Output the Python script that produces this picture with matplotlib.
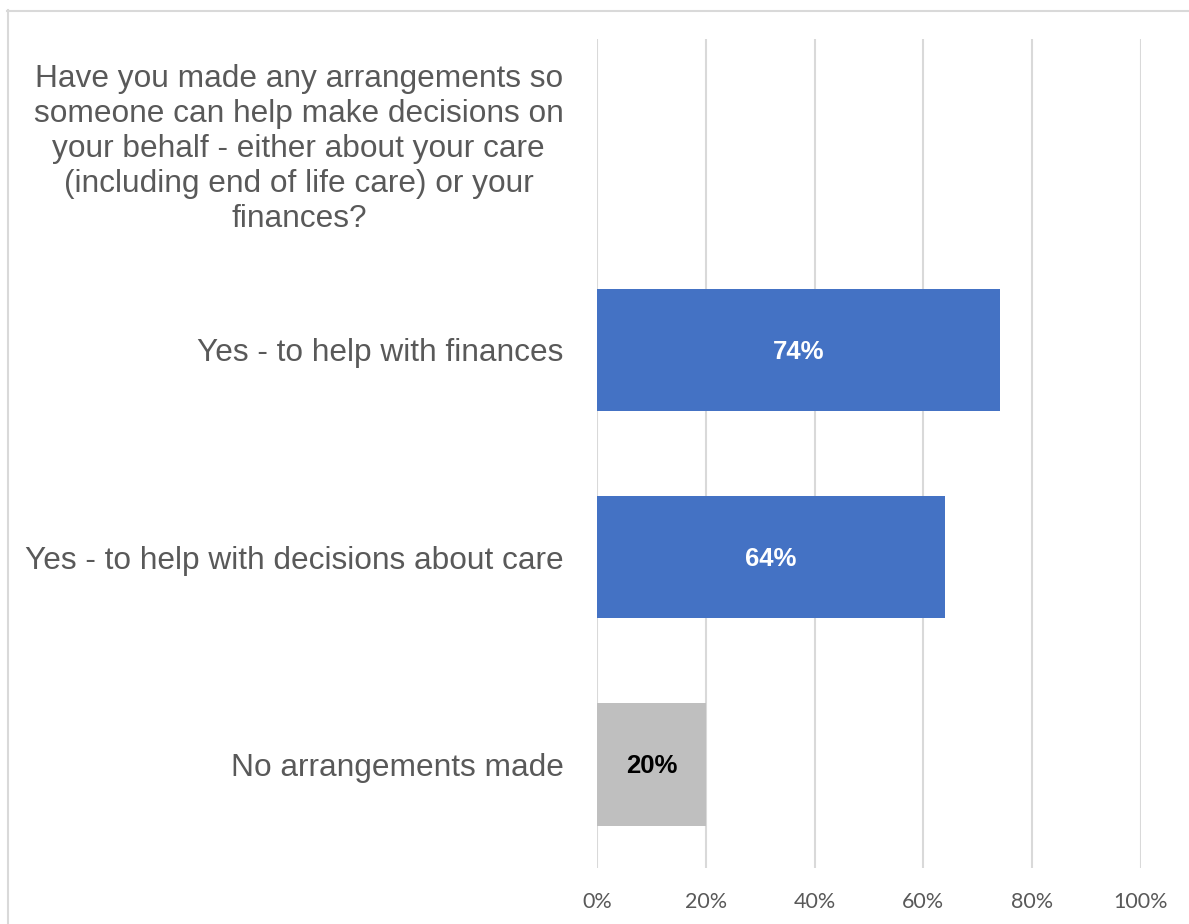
import matplotlib.pyplot as plt
from matplotlib.lines import Line2D

# Survey responses, top to bottom (first row is the question itself)
categories = [
    "Have you made any arrangements so\nsomeone can help make decisions on\nyour behalf - either about your care\n(including end of life care) or your\nfinances?",
    "Yes - to help with finances",
    "Yes - to help with decisions about care",
    "No arrangements made",
]
values = [None, 74, 64, 20]
colors = [None, "#4472C4", "#4472C4", "#BFBFBF"]
label_colors = [None, "white", "white", "black"]
ticks = [0, 20, 40, 60, 80, 100]

W, H = 1189, 924
fig = plt.figure(figsize=(W / 100, H / 100), dpi=100)
ax = fig.add_axes([597 / W, 1 - 868 / H, (1141 - 597) / W, (868 - 39) / H])

ypos = list(range(len(categories)))
for y, v, c, lc in zip(ypos, values, colors, label_colors):
    if v is None:
        continue
    ax.barh(y, v, height=0.59, color=c, zorder=2)
    ax.text(v / 2, y + 0.01, f"{v}%", ha="center", va="center", color=lc,
            fontsize=18.5, fontweight="bold", family="Liberation Sans", zorder=3)

ax.set_ylim(len(categories) - 0.5, -0.5)
ax.set_xlim(0, 100)
ax.set_yticks(ypos)
ax.set_yticklabels(categories, fontsize=22.8, color="#595959",
                   family="Liberation Sans", multialignment="center",
                   linespacing=1.22)
ax.set_xticks(ticks)
ax.set_xticklabels([f"{t}%" for t in ticks], fontsize=15.5, color="#595959",
                   family="Lato")
ax.tick_params(axis="y", length=0, pad=24)
ax.tick_params(axis="x", length=0, pad=17)
ax.grid(axis="x", color="#D9D9D9", linewidth=1.5, zorder=0)
for s in ax.spines.values():
    s.set_visible(False)

# Chart frame, cut off at the right and bottom edges
fig.lines.append(Line2D([7.5 / W, 7.5 / W], [0, 1 - 10 / H],
                        transform=fig.transFigure, color="#D9D9D9", lw=1.5))
fig.lines.append(Line2D([7 / W, 1], [1 - 10.5 / H, 1 - 10.5 / H],
                        transform=fig.transFigure, color="#D9D9D9", lw=1.5))

fig.savefig("out.png", dpi=100)
